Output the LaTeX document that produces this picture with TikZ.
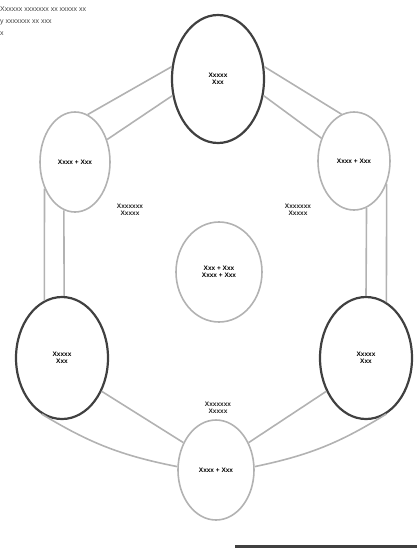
\documentclass[tikz,border=0pt]{standalone}
\usepackage{fontspec}
\setmainfont{Liberation Sans}
\usetikzlibrary{shapes.geometric}
\begin{document}
\begin{tikzpicture}[x=1pt,y=-1pt,
  bignode/.style={ellipse,draw=black!75,line width=2.2pt,inner sep=0pt,align=center,font=\fontsize{6.5}{7}\selectfont\bfseries},
  smallnode/.style={ellipse,draw=black!30,line width=1.6pt,inner sep=0pt,align=center,font=\fontsize{6.5}{7}\selectfont\bfseries},
  link/.style={draw=black!30,line width=1.6pt},
  lbl/.style={align=center,font=\fontsize{6.5}{7}\selectfont\bfseries,text=black!85}]
\useasboundingbox (0,0) rectangle (417,549);
\node[bignode,minimum width=92,minimum height=128] (top) at (218,79) {Xxxxx\\Xxx};
\node[smallnode,minimum width=70,minimum height=100] (ul) at (75,162) {Xxxx + Xxx};
\node[smallnode,minimum width=72,minimum height=98] (ur) at (354,161) {Xxxx + Xxx};
\node[bignode,minimum width=92,minimum height=122] (l) at (62,358) {Xxxxx\\Xxx};
\node[bignode,minimum width=92,minimum height=122] (r) at (366,358) {Xxxxx\\Xxx};
\node[smallnode,minimum width=76,minimum height=100] (b) at (216,470) {Xxxx + Xxx};
\node[smallnode,minimum width=86,minimum height=100] (c) at (219,272) {Xxx + Xxx\\Xxxx + Xxx};
\draw[link] (top.165) -- (ul.75);
\draw[link] (top.200) -- (ul.35);
\draw[link] (ul.221) -- (l.107);
\draw[link] (ul.257) -- (l.88);
\draw[link] (l.250) to[bend right=10] (b.175);
\draw[link] (l.320) -- (b.140);
\draw[link] (b.5) to[bend right=10] (r.290);
\draw[link] (b.40) -- (r.220);
\draw[link] (r.70) -- (ur.325);
\draw[link] (r.90) -- (ur.285);
\draw[link] (ur.105) -- (top.15);
\draw[link] (ur.145) -- (top.340);
\node[lbl] (la) at (130,210) {Xxxxxxx\\Xxxxx};
\node[lbl] (lb) at (298,210) {Xxxxxxx\\Xxxxx};
\node[lbl] (lc) at (218,408) {Xxxxxxx\\Xxxxx};
\node[anchor=north west,inner sep=0pt,align=left,font=\fontsize{7}{12}\selectfont,text=black!75] (note) at (0,6) {Xxxxxx xxxxxxx xx xxxxx xx\\y xxxxxxx xx xxx\\x};
\coordinate (s1) at (235,546);
\coordinate (s2) at (417,546);
\draw[black!75,line width=3pt] (s1) -- (s2);
\end{tikzpicture}
\end{document}
